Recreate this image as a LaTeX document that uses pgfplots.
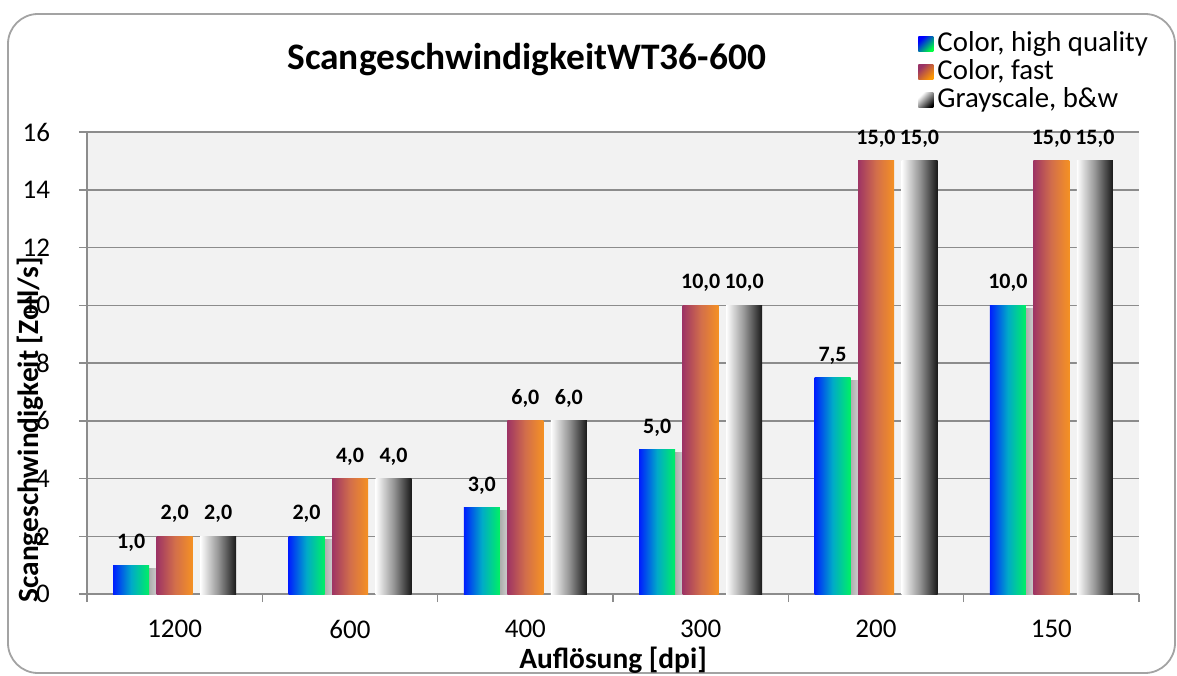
\documentclass[border=0pt]{standalone}
\usepackage{fontspec}
\setmainfont{Carlito}
\usepackage{pgfplots}
\pgfplotsset{compat=1.18}

\definecolor{gridgray}{RGB}{140,140,140}
\definecolor{plotbg}{RGB}{242,242,242}
\definecolor{hqA}{RGB}{0,0,255}
\definecolor{hqB}{RGB}{0,255,64}
\definecolor{fastA}{RGB}{153,51,102}
\definecolor{fastB}{RGB}{255,153,0}
% left/right colours of the bar gradients
\definecolor{hqL}{RGB}{0,30,255}
\definecolor{hqM}{RGB}{0,170,200}
\definecolor{hqR}{RGB}{0,240,100}
\definecolor{fastL}{RGB}{158,52,100}
\definecolor{fastM}{RGB}{210,110,75}
\definecolor{fastR}{RGB}{245,145,35}
\definecolor{bwL}{RGB}{255,255,255}
\definecolor{bwM}{RGB}{150,150,150}
\definecolor{bwR}{RGB}{25,25,25}
\definecolor{shL}{RGB}{60,60,60}
\definecolor{shR}{RGB}{205,205,205}

\pgfdeclarehorizontalshading{hqshade}{100bp}{color(0bp)=(hqL); color(25bp)=(hqL); color(50bp)=(hqM); color(75bp)=(hqR); color(100bp)=(hqR)}
\pgfdeclarehorizontalshading{fastshade}{100bp}{color(0bp)=(fastL); color(25bp)=(fastL); color(50bp)=(fastM); color(75bp)=(fastR); color(100bp)=(fastR)}
\pgfdeclarehorizontalshading{bwshade}{100bp}{color(0bp)=(bwL); color(25bp)=(bwL); color(50bp)=(bwM); color(75bp)=(bwR); color(100bp)=(bwR)}
\pgfdeclarehorizontalshading{shadowshade}{100bp}{color(0bp)=(shL); color(25bp)=(shL); color(75bp)=(shR); color(100bp)=(shR)}

\tikzset{
  hq/.style={top color=hqA, bottom color=hqB, shading angle=45},
  fast/.style={top color=fastA, bottom color=fastB, shading angle=45},
  bw/.style={top color=white, bottom color=black, shading angle=45},
}
% each bar is its own \addplot so that every bar gets its own gradient
\pgfplotsset{
  hqbar/.style={ybar, bar width=18pt, draw=none, shade, shading=hqshade, bar shift=-21.75pt,
    every node near coord/.append style={xshift=-21.75pt},
    legend image code/.code={\path[hq] (0pt,-3.75pt) rectangle (7.5pt,3.75pt);}},
  hqshadow/.style={hqbar, preaction={shading=shadowshade, transform canvas={xshift=4pt, yshift=-1.5pt}}},
  fastbar/.style={ybar, bar width=18pt, draw=none, shade, shading=fastshade, bar shift=0pt,
    legend image code/.code={\path[fast] (0pt,-3.75pt) rectangle (7.5pt,3.75pt);}},
  bwbar/.style={ybar, bar width=18pt, draw=none, shade, shading=bwshade, bar shift=21.75pt,
    every node near coord/.append style={xshift=21.75pt},
    legend image code/.code={\path[bw] (0pt,-3.75pt) rectangle (7.5pt,3.75pt);}},
  shadowonly/.style={ybar, bar width=18pt, draw=none, shade, shading=shadowshade, bar shift=-17.75pt,
    /tikz/transform canvas={yshift=-1.5pt}, nodes near coords={}},
}

\begin{document}
\begin{tikzpicture}
\useasboundingbox (-43.5pt,-40.5pt) rectangle (545pt,297pt);
\draw[gridgray!80, line width=0.9pt, rounded corners=15pt] (-39.5pt,-39.5pt) rectangle (544pt,290pt);
\begin{axis}[
    width=526pt, height=231pt, scale only axis,
    ymin=0, ymax=16, ytick={0,2,...,16},
    xmin=-0.5, xmax=5.5,
    xtick={0,...,5},
    xticklabels={1200,600,400,300,200,150},
    minor xtick={-0.5,0.5,...,5.5},
    axis x line*=bottom, axis y line*=left,
    axis line style={gridgray, line width=0.75pt, -},
    every tick/.style={gridgray, line width=0.75pt},
    major tick length=4pt, minor tick length=4pt, tick align=outside,
    major x tick style={draw=none},
    ymajorgrids, y grid style={gridgray, line width=0.75pt},
    axis background/.style={fill=plotbg},
    tick label style={font=\fontsize{13.5}{15}\selectfont},
    xticklabel style={anchor=center, yshift=-13.5pt},
    yticklabel style={anchor=east},
    yticklabel shift=11pt,
    /pgf/number format/assume math mode=true,
    xlabel={Auflösung [dpi]},
    ylabel={Scangeschwindigkeit [Zoll/s]},
    label style={font=\bfseries\fontsize{14.7}{16}\selectfont},
    xlabel style={at={(axis description cs:0.5,-0.143)}, anchor=center},
    ylabel style={at={(axis description cs:-0.0542,0.355)}, anchor=center},
    title={ScangeschwindigkeitWT36-600},
    title style={at={(axis description cs:0.418,1.13)}, anchor=center, font=\bfseries\fontsize{18.7}{20}\selectfont},
    legend style={at={(axis description cs:0.79,1.2208)}, anchor=north west,
        draw=none, fill=none, font=\fontsize{14.4}{15}\selectfont,
        row sep=0pt, inner sep=0pt,
        nodes={inner sep=0.5pt, text height=10pt, text depth=3pt},
        /tikz/every odd column/.append style={column sep=1.5pt}},
    legend cell align=left,
    nodes near coords={\pgfmathprintnumber[fixed, fixed zerofill, precision=1, use comma, assume math mode=true]{\pgfplotspointmeta}},
    every node near coord/.append style={font=\bfseries\fontsize{11}{13}\selectfont,
        anchor=south, inner sep=0pt, yshift=6.5pt, text=black},
]

% shadow of the first bar (the legend bar carries no preaction)
\addplot[shadowonly, forget plot] coordinates {(0,1)};

\addplot[hqbar] coordinates {(0,1)};
\addlegendentry{Color, high quality}
\addplot[fastbar] coordinates {(0,2)};
\addlegendentry{Color, fast}
\addplot[bwbar] coordinates {(0,2)};
\addlegendentry{Grayscale, b\&w}

\addplot[hqshadow, forget plot] coordinates {(1,2)};
\addplot[hqshadow, forget plot] coordinates {(2,3)};
\addplot[hqshadow, forget plot] coordinates {(3,5)};
\addplot[hqshadow, forget plot] coordinates {(4,7.5)};
\addplot[hqshadow, forget plot] coordinates {(5,10)};

\addplot[fastbar, forget plot] coordinates {(1,4)};
\addplot[fastbar, forget plot] coordinates {(2,6)};
\addplot[fastbar, forget plot] coordinates {(3,10)};
\addplot[fastbar, forget plot] coordinates {(4,15)};
\addplot[fastbar, forget plot] coordinates {(5,15)};

\addplot[bwbar, forget plot] coordinates {(1,4)};
\addplot[bwbar, forget plot] coordinates {(2,6)};
\addplot[bwbar, forget plot] coordinates {(3,10)};
\addplot[bwbar, forget plot] coordinates {(4,15)};
\addplot[bwbar, forget plot] coordinates {(5,15)};

\end{axis}
\end{tikzpicture}
\end{document}
